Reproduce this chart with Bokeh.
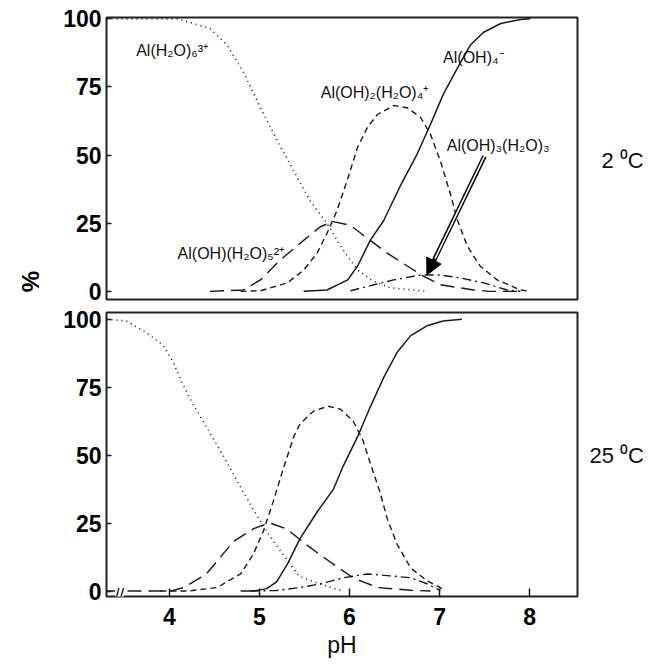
import math
from bokeh.plotting import figure
from bokeh.layouts import column
from bokeh.models import Range1d, FixedTicker, Label, Arrow, NormalHead, LinearAxis
from bokeh.embed import file_html
from bokeh.resources import INLINE

# ---------------- data (pH vs % of species) ----------------
y_ticks = [0, 25, 50, 75, 100]
x_ticks = [4, 5, 6, 7, 8]

# 2 °C panel
ph_t_h2o6 = [3.30, 4.09, 4.45, 4.64, 4.82, 5.01, 5.20, 5.38, 5.56, 5.75, 5.93, 6.09, 6.25, 6.45, 6.86]
pc_t_h2o6 = [100, 100, 96.5, 90.3, 80.5, 67.4, 55.1, 44.2, 33.3, 24.9, 15.1, 7.8, 4.0, 1.3, 0]

ph_t_oh1 = [4.45, 4.82, 5.01, 5.23, 5.49, 5.68, 5.82, 6.01, 6.23, 6.42, 6.64, 6.82, 7.01, 7.38, 7.56, 7.90]
pc_t_oh1 = [0, 0.5, 4.2, 11.5, 18.7, 23.8, 25.6, 24.2, 18.7, 14.0, 9.3, 5.6, 2.4, 0.5, 0, 0]

ph_t_oh2 = [4.79, 5.01, 5.31, 5.49, 5.64, 5.75, 5.86, 5.98, 6.09, 6.20, 6.31, 6.49, 6.64, 6.79,
            6.90, 7.01, 7.12, 7.20, 7.31, 7.45, 7.64, 7.90, 8.01]
pc_t_oh2 = [0, 0.2, 3.1, 7.8, 14.0, 21.3, 29.6, 41.3, 52.9, 60.2, 64.9, 68.2, 67.4, 63.8,
            57.6, 47.8, 35.8, 26.0, 16.5, 9.3, 4.2, 0.5, 0]

ph_t_oh3 = [6.01, 6.27, 6.49, 6.79, 7.01, 7.23, 7.49, 7.75, 7.90]
pc_t_oh3 = [0.2, 2.4, 4.2, 6.0, 6.0, 4.9, 3.1, 0.5, 0]

ph_t_oh4 = [5.49, 5.75, 5.98, 6.09, 6.23, 6.38, 6.56, 6.75, 6.90, 7.04, 7.20, 7.34, 7.49, 7.68, 7.90, 8.01]
pc_t_oh4 = [0, 0.5, 4.2, 9.3, 18.7, 26.0, 38.4, 50.3, 61.3, 72.2, 82.0, 90.3, 95.1, 98.3, 99.8, 100]

# 25 °C panel
ph_b_h2o6 = [3.30, 3.52, 3.74, 3.93, 4.04, 4.15, 4.26, 4.41, 4.60, 4.78, 4.93, 5.08, 5.26, 5.44, 5.66, 5.93]
pc_b_h2o6 = [100, 99.4, 95.1, 90.4, 84.3, 76.0, 68.8, 60.4, 49.6, 38.8, 30.1, 21.8, 13.5, 5.5, 2.7, 0]

ph_b_oh1 = [3.30, 4.01, 4.16, 4.41, 4.71, 4.93, 5.11, 5.30, 5.52, 5.65, 5.85, 6.04, 6.31, 6.68, 6.90]
pc_b_oh1 = [0, 0, 1.3, 6.3, 18.2, 22.9, 25.1, 22.9, 17.1, 13.9, 9.2, 4.9, 1.3, 0.3, 0]

ph_b_oh2 = [3.90, 4.20, 4.53, 4.79, 4.93, 5.04, 5.15, 5.26, 5.38, 5.45, 5.60, 5.76, 5.90, 6.04,
            6.15, 6.23, 6.34, 6.42, 6.53, 6.68, 6.86, 7.01, 7.04]
pc_b_oh2 = [0, 0, 1.3, 6.3, 13.5, 21.8, 32.7, 44.6, 56.8, 61.5, 66.2, 68.0, 66.9, 62.6,
            55.4, 47.1, 36.3, 26.5, 17.1, 8.5, 3.8, 1.3, 0]

ph_b_oh3 = [4.90, 5.19, 5.45, 5.68, 5.93, 6.20, 6.45, 6.68, 6.86, 7.01]
pc_b_oh3 = [0, 0.2, 1.3, 2.7, 4.9, 6.3, 5.6, 4.9, 2.7, 0.2]

ph_b_oh4 = [4.79, 4.93, 5.08, 5.19, 5.31, 5.45, 5.64, 5.82, 5.93, 6.09, 6.23, 6.38, 6.53, 6.68, 6.86, 7.04, 7.25]
pc_b_oh4 = [0, 0, 0.9, 3.4, 9.9, 19.3, 29.1, 37.4, 46.0, 56.8, 67.7, 78.6, 87.9, 94.0, 97.6, 99.4, 100]

panel_names = ["2 ⁰C", "25 ⁰C"]

FONT = "Liberation Sans"
INK = "#1a1a1a"
STYLES = {
    "h2o6": dict(line_dash="1 4", line_width=1.6),
    "oh1": dict(line_dash="14 7", line_width=1.4),
    "oh2": dict(line_dash="6 4", line_width=1.4),
    "oh3": dict(line_dash="9 4 2 4", line_width=1.4),
    "oh4": dict(line_dash="solid", line_width=1.5),
}

X_RANGE = (3.3, 8.533)


def make_fig(height, b_top, b_bottom, y_rng, with_x, name, name_pos, name_standoff):
    kw = {}
    if not with_x:
        kw["x_axis_location"] = None
    p = figure(width=657, height=height, x_range=Range1d(*X_RANGE), y_range=Range1d(*y_rng),
               output_backend="svg", toolbar_location=None,
               min_border_left=106, min_border_right=80, min_border_top=b_top,
               min_border_bottom=b_bottom, **kw)
    p.grid.visible = False
    p.outline_line_color = "#222222"
    p.outline_line_width = 2
    p.background_fill_color = "white"
    p.border_fill_color = "white"
    ya = p.yaxis[0]
    ya.ticker = FixedTicker(ticks=y_ticks)
    ya.axis_line_color = None
    ya.major_tick_in = 5
    ya.major_tick_out = 0
    ya.major_tick_line_color = INK
    ya.major_tick_line_width = 1.5
    ya.minor_tick_line_color = None
    ya.major_label_standoff = 5
    ya.major_label_text_font = FONT
    ya.major_label_text_font_style = "bold"
    ya.major_label_text_font_size = "23px"
    ya.major_label_text_color = "black"
    if with_x:
        xa = p.xaxis[0]
        xa.ticker = FixedTicker(ticks=x_ticks)
        xa.axis_line_color = None
        xa.major_tick_in = 8
        xa.major_tick_out = 0
        xa.major_tick_line_color = INK
        xa.major_tick_line_width = 1.5
        xa.minor_tick_line_color = None
        xa.major_label_standoff = 11
        xa.major_label_text_font = FONT
        xa.major_label_text_font_style = "bold"
        xa.major_label_text_font_size = "23px"
        xa.major_label_text_color = "black"
        xa.axis_label = "pH"
        xa.axis_label_text_font = FONT
        xa.axis_label_text_font_style = "normal"
        xa.axis_label_text_font_size = "23px"
        xa.axis_label_standoff = 4
        xa.axis_label_text_color = "#111111"
    # temperature tag on the right, as a one-tick axis
    ra = LinearAxis(ticker=FixedTicker(ticks=[name_pos]), major_label_overrides={name_pos: name},
                    axis_line_color=None, major_tick_line_color=None, minor_tick_line_color=None,
                    major_label_standoff=name_standoff, major_label_text_font=FONT,
                    major_label_text_font_size="22px", major_label_text_color="#111111")
    p.add_layout(ra, "right")
    return p


def draw(p, series):
    for key, xs, ys in series:
        p.line(xs, ys, line_color=INK, **STYLES[key])


top = make_fig(304, 17, 5, (-3, 100.5), False, panel_names[0], 48, 18)
draw(top, [("h2o6", ph_t_h2o6, pc_t_h2o6), ("oh1", ph_t_oh1, pc_t_oh1), ("oh2", ph_t_oh2, pc_t_oh2),
           ("oh3", ph_t_oh3, pc_t_oh3), ("oh4", ph_t_oh4, pc_t_oh4)])

bot = make_fig(358, 8, 66, (-2, 102.5), True, panel_names[1], 50, 6)
draw(bot, [("h2o6", ph_b_h2o6, pc_b_h2o6), ("oh1", ph_b_oh1, pc_b_oh1), ("oh2", ph_b_oh2, pc_b_oh2),
           ("oh3", ph_b_oh3, pc_b_oh3), ("oh4", ph_b_oh4, pc_b_oh4)])

# "%" as a one-tick extra left axis near the bottom of the top panel
top.extra_y_ranges = {"px": Range1d(0, 282)}
pa = LinearAxis(y_range_name="px", ticker=FixedTicker(ticks=[4]), major_label_overrides={4: "%"},
                axis_line_color=None, major_tick_line_color=None, minor_tick_line_color=None,
                major_label_standoff=24, major_label_orientation=math.pi / 2,
                major_label_text_font=FONT, major_label_text_font_style="bold",
                major_label_text_font_size="24px", major_label_text_color="black")
top.add_layout(pa, "left")

# species labels (top panel)
species_labels = [
    ("Al(H₂O)₆³⁺", 3.63, 88.5),
    ("Al(OH)₂(H₂O)₄⁺", 5.68, 72.9),
    ("Al(OH)₄⁻", 7.04, 86.0),
    ("Al(OH)₃(H₂O)₃", 7.08, 53.6),
    ("Al(OH)(H₂O)₅²⁺", 4.09, 14.0),
]
for txt, x, y in species_labels:
    top.add_layout(Label(x=x, y=y, text=txt, text_font=FONT, text_font_size="16px",
                         text_color="#111111", text_align="left", text_baseline="middle"))

# double-line arrow pointing at Al(OH)3(H2O)3
top.add_layout(Arrow(end=NormalHead(size=16, fill_color="black", line_color="black", line_width=1),
                     x_start=7.50, y_start=49.6, x_end=6.86, y_end=6.0,
                     line_width=4.5, line_color="black"))
top.add_layout(Arrow(end=None, x_start=7.505, y_start=50.0, x_end=6.95, y_end=12.0,
                     line_width=1.6, line_color="white"))

# axis break marks
bot.add_layout(Label(x=3.445, y=-1.2, text="//", text_font=FONT, text_font_size="16px",
                     text_align="center", text_baseline="middle", text_color="black",
                     background_fill_color="white", background_fill_alpha=1.0))

layout = column(top, bot, spacing=0)
open("out.html", "w").write(file_html(layout, INLINE))
